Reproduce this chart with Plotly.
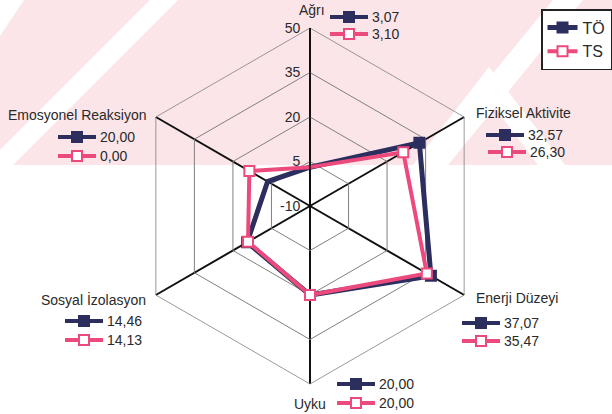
import plotly.graph_objects as go

# ---------------- data ----------------
categories = ["Ağrı", "Fiziksel Aktivite", "Enerji Düzeyi", "Uyku",
              "Sosyal İzolasyon", "Emosyonel Reaksiyon"]
series_names = ["TÖ", "TS"]
# values as plotted in the picture
to_values = [3.07, 32.57, 37.07, 20.00, 14.46, 6.5]
ts_values = [3.10, 26.30, 35.47, 20.00, 14.13, 13.6]
# value labels as printed next to each category
to_labels = ["3,07", "32,57", "37,07", "20,00", "14,46", "20,00"]
ts_labels = ["3,10", "26,30", "35,47", "20,00", "14,13", "0,00"]
radial_ticks = [-10, 5, 20, 35, 50]
radial_ticktext = ["-10", "5", "20", "35", "50"]

NAVY = "#2c2e5e"
PINK = "#ec4a7c"
TXT = "#2a2a2a"
W, H = 612, 414
FONT = "Liberation Sans, Arial, sans-serif"


def px(x, y):
    return x / W, 1 - y / H


fig = go.Figure()
for name, vals, col, fill, lw in [("TÖ", to_values, NAVY, NAVY, 5),
                                   ("TS", ts_values, PINK, "white", 4)]:
    fig.add_trace(go.Scatterpolar(
        r=vals + vals[:1], theta=categories + categories[:1],
        mode="lines+markers", name=name,
        line=dict(color=col, width=lw),
        marker=dict(symbol="square", size=10, color=fill,
                    line=dict(color=col, width=2)),
    ))

shapes = []
annotations = []

# faint pink background watermark with white diagonal bands
def path(points):
    s = ""
    for i, (x, y) in enumerate(points):
        X, Y = px(x, y)
        s += ("M" if i == 0 else "L") + f"{X:.4f},{Y:.4f} "
    return s + "Z"

BG = "#fbe5e8"
shapes.append(dict(type="path", xref="paper", yref="paper", layer="below",
                   path=path([(0, 0), (W, 0), (W, 165), (0, 165)]),
                   fillcolor=BG, line=dict(width=0)))
for pts in [
    [(0, 0), (24, 0), (0, 36)],
    [(150, 0), (178, 0), (13, 165), (-15, 165)],
    [(553, 0), (583, 0), (448, 165), (418, 165)],
    [(489, 67), (565, 165), (538, 165), (489, 100), (440, 165), (413, 165)],
]:
    shapes.append(dict(type="path", xref="paper", yref="paper", layer="below",
                       path=path(pts), fillcolor="white", line=dict(width=0)))


def icon(x0, y, col, fill):
    # legend-like line with square marker, in pixel coords
    a, b = px(x0, y)
    c, _ = px(x0 + 38, y)
    shapes.append(dict(type="line", xref="paper", yref="paper",
                       x0=a, x1=c, y0=b, y1=b, line=dict(color=col, width=4)))
    mx = x0 + 19
    p0 = px(mx - 5, y - 5)
    p1 = px(mx + 5, y + 5)
    shapes.append(dict(type="rect", xref="paper", yref="paper",
                       x0=p0[0], x1=p1[0], y0=p1[1], y1=p0[1],
                       fillcolor=fill, line=dict(color=col, width=2)))


def text(x, y, s, anchor="left", size=14):
    X, Y = px(x, y)
    annotations.append(dict(x=X, y=Y, xref="paper", yref="paper", text=s,
                            showarrow=False, xanchor=anchor, yanchor="middle",
                            font=dict(size=size, color=TXT, family=FONT)))


layout_info = {
    0: dict(lab=(312, 10, "center"), ix=(330, 330), iy=(17, 34)),
    1: dict(lab=(474, 113, "left"), ix=(486, 488), iy=(135, 152)),
    2: dict(lab=(474, 298, "left"), ix=(462, 462), iy=(323, 341)),
    3: dict(lab=(310, 404, "center"), ix=(337, 337), iy=(384, 403)),
    4: dict(lab=(148, 299, "right"), ix=(65, 65), iy=(321, 340)),
    5: dict(lab=(149, 115, "right"), ix=(58, 58), iy=(137, 156)),
}
for i, cat in enumerate(categories):
    info = layout_info[i]
    lx, ly, anc = info["lab"]
    text(lx, ly, cat, anc)
    icon(info["ix"][0], info["iy"][0], NAVY, NAVY)
    text(info["ix"][0] + 40, info["iy"][0], to_labels[i])
    icon(info["ix"][1], info["iy"][1], PINK, "white")
    text(info["ix"][1] + 40, info["iy"][1], ts_labels[i])

cx, cy, R = 310, 206, 178
dx0, dy1 = px(cx - R, cy - R)
dx1, dy0 = px(cx + R, cy + R)

fig.update_layout(
    width=W, height=H,
    margin=dict(l=0, r=0, t=0, b=0),
    paper_bgcolor="white",
    font=dict(family=FONT, color=TXT),
    shapes=shapes,
    annotations=annotations,
    showlegend=True,
    legend=dict(x=1.0, y=1 - 9 / H, xanchor="right", yanchor="top",
                bgcolor="white", bordercolor="#222", borderwidth=1.5,
                font=dict(size=16, color=TXT, family=FONT),
                tracegroupgap=0, itemwidth=30),
    polar=dict(
        domain=dict(x=[dx0, dx1], y=[dy0, dy1]),
        bgcolor="rgba(0,0,0,0)",
        gridshape="linear",
        radialaxis=dict(range=[-10, 50], tickvals=radial_ticks,
                        ticktext=radial_ticktext,
                        angle=90, side="counterclockwise", tickangle=90,
                        showline=True, linecolor="#111", linewidth=1.5,
                        gridcolor="#808080", gridwidth=0.8,
                        ticks="outside", ticklen=4,
                        tickcolor="rgba(0,0,0,0)",
                        tickfont=dict(size=14, color=TXT, family=FONT)),
        angularaxis=dict(rotation=90, direction="clockwise",
                         showticklabels=False, ticks="",
                         gridcolor="#111", gridwidth=1.5,
                         showline=True, linecolor="#808080", linewidth=0.8),
    ),
)

fig.write_html("out.html")
